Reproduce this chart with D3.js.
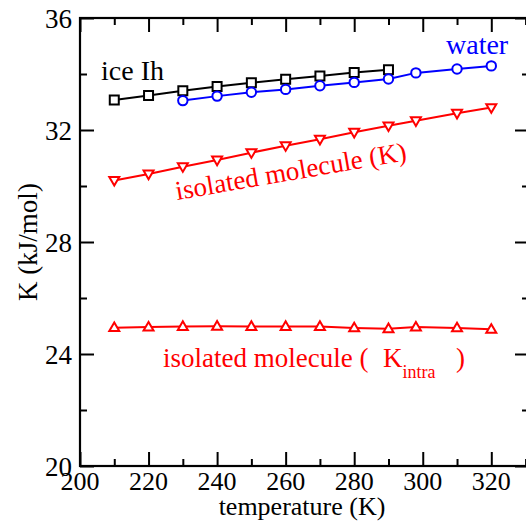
<!DOCTYPE html>
<html><head><meta charset="utf-8"><script src="https://cdn.jsdelivr.net/npm/d3@7"></script>
<style>
svg text, svg tspan { font-family: "Liberation Serif", "Times New Roman", Times, serif !important; }
</style>
</head>
<body style="margin:0">
<script>
// ---- data ----
const iceT = [210, 220, 230, 240, 250, 260, 270, 280, 290];
const iceK = [33.07, 33.23, 33.40, 33.55, 33.69, 33.81, 33.93, 34.05, 34.15];

const waterT = [230, 240, 250, 260, 270, 280, 290, 298, 310, 320];
const waterK = [33.05, 33.21, 33.35, 33.45, 33.58, 33.70, 33.82, 34.04, 34.18, 34.29];

const isoT = [210, 220, 230, 240, 250, 260, 270, 280, 290, 298, 310, 320];
const isoK = [30.20, 30.43, 30.69, 30.93, 31.19, 31.44, 31.67, 31.92, 32.15, 32.33, 32.60, 32.80];

const intraT = [210, 220, 230, 240, 250, 260, 270, 280, 290, 298, 310, 320];
const intraK = [24.94, 24.96, 24.98, 24.99, 24.98, 24.98, 24.98, 24.93, 24.90, 24.96, 24.93, 24.88];

const xTicks = [200, 220, 240, 260, 280, 300, 320];
const xMinor = [210, 230, 250, 270, 290, 310, 330];
const yTicks = [20, 24, 28, 32, 36];
const yMinor = [22, 26, 30, 34];

// ---- layout ----
const W = 526, H = 522;
const svg = d3.select("body").append("svg").attr("width", W).attr("height", H);

const x = d3.scaleLinear().domain([200, 331]).range([80, 529]);
const y = d3.scaleLinear().domain([20, 36]).range([466, 18]);

const fs = 27;
const MAJ = 14, MIN = 7;
const SERIF = '"Liberation Serif", "Times New Roman", Times, serif';

// frame
const g = svg.append("g");
g.append("rect")
  .attr("x", x(200)).attr("y", y(36))
  .attr("width", x(331) - x(200)).attr("height", y(20) - y(36))
  .attr("fill", "none").attr("stroke", "#000").attr("stroke-width", 2.2);

function styleAxis(sel) {
  sel.select(".domain").remove();
  sel.selectAll(".tick line").attr("stroke", "#000").attr("stroke-width", 2);
  sel.selectAll(".tick text").remove();
}
g.append("g").attr("transform", `translate(0,${y(20)})`)
  .call(d3.axisTop(x).tickValues(xTicks).tickSize(MAJ).tickFormat("")).call(styleAxis);
g.append("g").attr("transform", `translate(0,${y(20)})`)
  .call(d3.axisTop(x).tickValues(xMinor).tickSize(MIN).tickFormat("")).call(styleAxis);
g.append("g").attr("transform", `translate(0,${y(36)})`)
  .call(d3.axisBottom(x).tickValues(xTicks).tickSize(MAJ).tickFormat("")).call(styleAxis);
g.append("g").attr("transform", `translate(0,${y(36)})`)
  .call(d3.axisBottom(x).tickValues(xMinor).tickSize(MIN).tickFormat("")).call(styleAxis);
g.append("g").attr("transform", `translate(${x(200)},0)`)
  .call(d3.axisRight(y).tickValues(yTicks).tickSize(MAJ).tickFormat("")).call(styleAxis);
g.append("g").attr("transform", `translate(${x(200)},0)`)
  .call(d3.axisRight(y).tickValues(yMinor).tickSize(MIN).tickFormat("")).call(styleAxis);
g.append("g").attr("transform", `translate(${x(331)},0)`)
  .call(d3.axisLeft(y).tickValues(yTicks).tickSize(MAJ).tickFormat("")).call(styleAxis);
g.append("g").attr("transform", `translate(${x(331)},0)`)
  .call(d3.axisLeft(y).tickValues(yMinor).tickSize(MIN).tickFormat("")).call(styleAxis);

// series
const line = d3.line().x(d => x(d[0])).y(d => y(d[1]));
function series(T, K, color, shape) {
  const pts = T.map((t, i) => [t, K[i]]);
  svg.append("path").datum(pts).attr("d", line)
    .attr("fill", "none").attr("stroke", color).attr("stroke-width", 2);
  const m = svg.append("g").selectAll("path").data(pts).join("path")
    .attr("transform", d => `translate(${x(d[0])},${y(d[1])})`)
    .attr("fill", "#fff").attr("stroke", color).attr("stroke-width", 2);
  if (shape === "square") m.attr("d", "M-4.5,-4.5H4.5V4.5H-4.5Z");
  if (shape === "circle") m.attr("d", d3.symbol(d3.symbolCircle, Math.PI * 4.7 * 4.7));
  if (shape === "down") m.attr("d", "M-5,-3.4L5,-3.4L0,5.2Z");
  if (shape === "up") m.attr("d", "M-5,3.4L5,3.4L0,-5.2Z");
}
series(iceT, iceK, "#000", "square");
series(waterT, waterK, "#0000ff", "circle");
series(isoT, isoK, "#ff0000", "down");
series(intraT, intraK, "#ff0000", "up");

function T(sel) { return sel.style("font-family", SERIF, "important"); }

// tick labels
svg.selectAll("text.xt").data(xTicks).join("text").attr("class", "xt")
  .attr("x", d => x(d)).attr("y", y(20) + 24)
  .attr("text-anchor", "middle").attr("font-size", 26).call(T).text(d => d);
svg.selectAll("text.yt").data(yTicks).join("text").attr("class", "yt")
  .attr("x", 72).attr("y", d => y(d) + 9.5)
  .attr("text-anchor", "end").attr("font-size", fs).call(T).text(d => d);

// axis titles
svg.append("text").attr("x", 302).attr("y", 515)
  .attr("text-anchor", "middle").attr("font-size", 26).call(T).text("temperature (K)");
svg.append("text").attr("transform", `translate(37,${(y(20) + y(36)) / 2}) rotate(-90)`)
  .attr("text-anchor", "middle").attr("font-size", 27).call(T).text("K (kJ/mol)");

// annotations
svg.append("text").attr("x", 101).attr("y", 80).attr("font-size", 28).attr("fill", "#000")
  .call(T).text("ice Ih");
svg.append("text").attr("x", 446).attr("y", 54).attr("font-size", 28).attr("fill", "#0000ff")
  .call(T).text("water");
svg.append("text").attr("transform", "translate(177,200) rotate(-9.8)")
  .attr("font-size", fs).attr("fill", "#ff0000").call(T).text("isolated molecule (K)");
const t4 = svg.append("text").attr("x", 163).attr("y", 367).attr("font-size", fs).attr("fill", "#ff0000")
  .call(T);
t4.append("tspan").text("isolated molecule (");
t4.append("tspan").attr("x", 383).text("K");
t4.append("tspan").attr("font-size", 18).attr("dy", 11).text("intra");
t4.append("tspan").attr("x", 456).attr("dy", -11).text(")");
</script></body></html>
